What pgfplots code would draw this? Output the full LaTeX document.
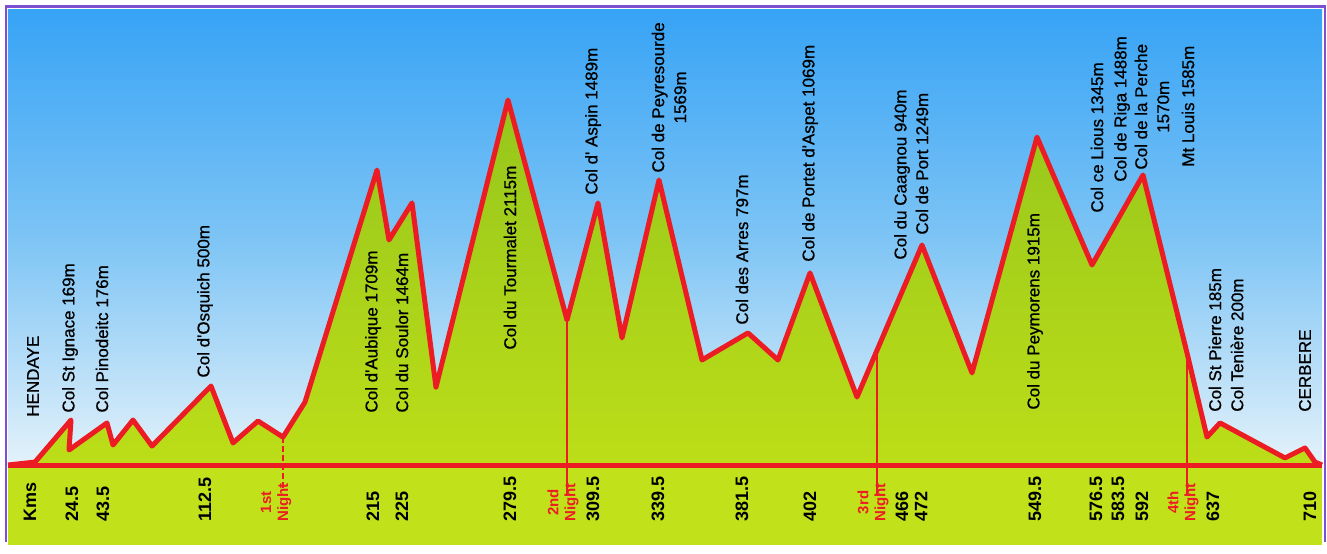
\documentclass[border=0pt]{standalone}
\usepackage{pgfplots}
\pgfplotsset{compat=1.18}
\usepackage{fontspec}
\setmainfont{Liberation Sans}
\newfontfamily\lblfont{Liberation Sans}[FakeBold=0.8]
\definecolor{skytop}{RGB}{55,163,245}
\definecolor{skymid}{RGB}{125,196,245}
\definecolor{skybot}{RGB}{228,242,250}
\definecolor{grtop}{RGB}{150,198,28}
\definecolor{grbot}{RGB}{188,222,24}
\definecolor{band}{RGB}{193,226,26}
\definecolor{prof}{RGB}{236,28,36}
\definecolor{framecol}{RGB}{125,80,210}
\tikzset{lbl/.style={rotate=90, anchor=west, inner sep=0pt, font=\lblfont\fontsize{8.5}{11}\selectfont}}
\begin{document}
\begin{tikzpicture}
\begin{axis}[
  width=657pt, height=267.5pt, scale only axis,
  xmin=8, xmax=1322, ymin=-464, ymax=2639,
  clip=false, axis on top=true,
  axis line style={draw=none},
  ytick=\empty,
  xtick={30,72,103,205,373,402,510,593,658,742,810,902,921,1035,1096,1118,1142,1213,1310},
  xticklabels={Kms,24.5,43.5,112.5,215,225,279.5,309.5,339.5,381.5,402,466,472,549.5,576.5,583.5,592,637,710},
  xtick style={draw=none},
  xticklabel style={font=\bfseries\fontsize{9}{9}\selectfont, yshift=11.5pt, rotate=90, anchor=west, inner sep=0pt},
  extra x ticks={276,563,873,1183},
  extra x tick labels={{1st\\Night},{2nd\\Night},{3rd\\Night},{4th\\Night}},
  extra x tick style={xticklabel style={text=prof, align=center, font=\bfseries\fontsize{7.5}{8.5}\selectfont}},
]
% sky and lower band
\fill[top color=skytop, bottom color=skybot, middle color=skymid] (axis cs:8,0) rectangle (axis cs:1322,2639);
\fill[band] (axis cs:8,-464) rectangle (axis cs:1322,0);
% profile fill
\addplot[draw=none, top color=grtop, bottom color=grbot] coordinates {
(8,0) (35,17) (71,261) (69,87) (107,244) (113,116) (133,261) (152,110) (211,458) (233,128) (258,255) (283,162) (305,365) (377,1711) (389,1305) (412,1520) (436,452) (508,2117) (567,841) (598,1520) (622,737) (659,1653) (702,609) (748,766) (778,609) (810,1114) (857,394) (922,1276) (972,534) (1037,1902) (1092,1160) (1143,1682) (1187,650) (1207,162) (1220,244) (1285,41) (1305,99) (1315,17) (1322,0)
} \closedcycle;
% night lines
\addplot[prof, line width=1.3pt, dash pattern=on 3pt off 1.5pt] coordinates {(283,162) (283,-145)};
\addplot[prof, line width=0.6pt] coordinates {(567,841) (567,-174)};
\addplot[prof, line width=0.6pt] coordinates {(877,667) (877,-174)};
\addplot[prof, line width=0.6pt] coordinates {(1187,650) (1187,-174)};
% baseline and profile line
\addplot[prof, line width=2.5pt] coordinates {(8,0) (1322,0)};
\addplot[prof, line width=2.5pt, line join=round] coordinates {
(8,0) (35,17) (71,261) (69,87) (107,244) (113,116) (133,261) (152,110) (211,458) (233,128) (258,255) (283,162) (305,365) (377,1711) (389,1305) (412,1520) (436,452) (508,2117) (567,841) (598,1520) (622,737) (659,1653) (702,609) (748,766) (778,609) (810,1114) (857,394) (922,1276) (972,534) (1037,1902) (1092,1160) (1143,1682) (1187,650) (1207,162) (1220,244) (1285,41) (1305,99) (1315,17) (1322,0)
};
% peak labels
\node[lbl] at (axis cs:33,278) {HENDAYE};
\node[lbl] at (axis cs:70,302) {Col St Ignace 169m};
\node[lbl] at (axis cs:102,302) {Col Pinodeitc 176m};
\node[lbl] at (axis cs:205,505) {Col d'Osquich 500m};
\node[lbl] at (axis cs:373,302) {Col d'Aubique 1709m};
\node[lbl] at (axis cs:402,302) {Col du Soulor 1464m};
\node[lbl] at (axis cs:510,667) {Col du Tourmalet 2115m};
\node[lbl] at (axis cs:593,1566) {Col d' Aspin 1489m};
\node[lbl, align=center] at (axis cs:669,1694) {Col de Peyresourde\\1569m};
\node[lbl] at (axis cs:742,812) {Col des Arres 797m};
\node[lbl] at (axis cs:810,1177) {Col de Portet d'Aspet 1069m};
\node[lbl] at (axis cs:902,1189) {Col du Caagnou 940m};
\node[lbl] at (axis cs:922,1334) {Col de Port 1249m};
\node[lbl] at (axis cs:1035,319) {Col du Peymorens 1915m};
\node[lbl] at (axis cs:1097,1462) {Col ce Lious 1345m};
\node[lbl] at (axis cs:1122,1641) {Col de Riga 1488m};
\node[lbl, align=center] at (axis cs:1152,1711) {Col de la Perche\\1570m};
\node[lbl] at (axis cs:1188,1728) {Mt Louis 1585m};
\node[lbl] at (axis cs:1215,307) {Col St Pierre 185m};
\node[lbl] at (axis cs:1237,307) {Col Tenière 200m};
\node[lbl] at (axis cs:1305,307) {CERBERE};
% frame
\draw[framecol, line width=1.2pt] (axis cs:6,-447) -- (axis cs:6,2659) -- (axis cs:1325,2659) -- (axis cs:1325,-447);
\coordinate (bbsw) at (axis cs:0,-516);
\coordinate (bbne) at (axis cs:1327,2697);
\end{axis}
\pgfresetboundingbox
\path (bbsw) rectangle (bbne);
\end{tikzpicture}
\end{document}
